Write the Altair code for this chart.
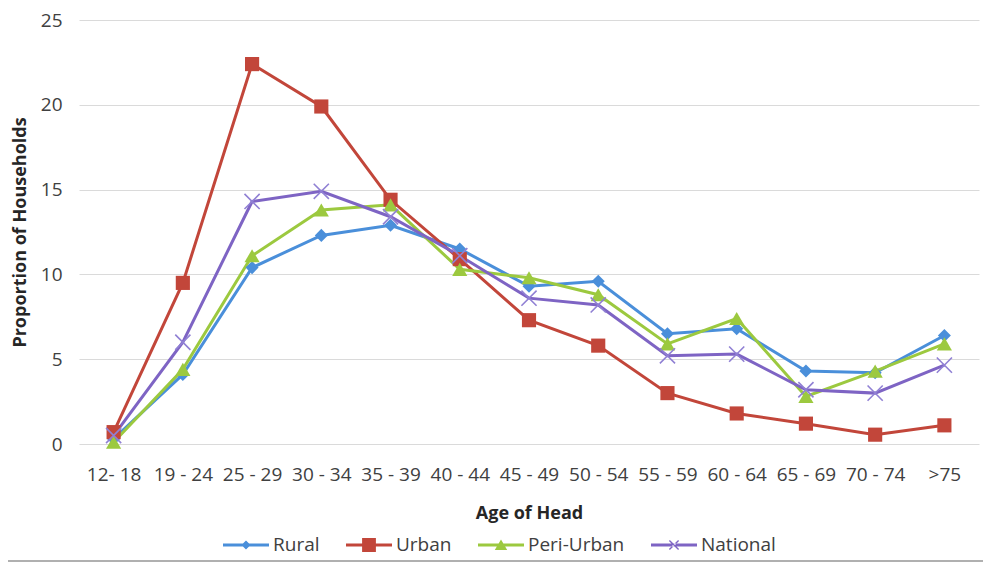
import altair as alt
import pandas as pd

categories = ["12- 18", "19 - 24", "25 - 29", "30 - 34", "35 - 39", "40 - 44",
              "45 - 49", "50 - 54", "55 - 59", "60 - 64", "65 - 69", "70 - 74", ">75"]
series_names = ["Rural", "Urban", "Peri-Urban", "National"]
rural = [0.3, 4.1, 10.4, 12.3, 12.9, 11.5, 9.3, 9.6, 6.5, 6.8, 4.3, 4.2, 6.4]
urban = [0.7, 9.5, 22.4, 19.9, 14.4, 10.9, 7.3, 5.8, 3.0, 1.8, 1.2, 0.55, 1.1]
peri_urban = [0.1, 4.4, 11.1, 13.8, 14.1, 10.3, 9.8, 8.8, 5.9, 7.4, 2.8, 4.3, 5.9]
national = [0.5, 6.0, 14.3, 14.9, 13.4, 11.1, 8.6, 8.2, 5.2, 5.3, 3.2, 3.0, 4.65]
y_ticks = [0, 5, 10, 15, 20, 25]

colors = ["#4A8FDA", "#C2463A", "#9CC93F", "#7E64C4"]
x_marker_color = "#9080D4"

rows = []
for name, vals in zip(series_names, [rural, urban, peri_urban, national]):
    for c, v in zip(categories, vals):
        rows.append({"age": c, "value": v, "series": name})
df = pd.DataFrame(rows)

FONT = "Open Sans"

x_enc = alt.X("age:N", sort=categories,
              scale=alt.Scale(domain=categories, padding=0.5),
              axis=alt.Axis(title="Age of Head", labelAngle=0, labelFontSize=19,
                            labelFont=FONT, labelColor="#404040", ticks=False,
                            tickSize=0, domain=False, grid=False, labelPadding=21,
                            labelBaseline="top", titleFont=FONT, titleFontSize=18,
                            titleFontWeight="bold", titleColor="#262626",
                            titleBaseline="alphabetic", titleY=74))
y_enc = alt.Y("value:Q",
              scale=alt.Scale(domain=[0, 25], nice=False, zero=True),
              axis=alt.Axis(title="Proportion of Households", values=y_ticks,
                            labelFontSize=19, labelFont=FONT, labelColor="#404040",
                            ticks=False, tickSize=0, domain=False, grid=True,
                            gridColor="#DADADA", gridWidth=1, labelPadding=17,
                            titleFont=FONT, titleFontSize=18, titleFontWeight="bold",
                            titleColor="#262626", titleBaseline="alphabetic",
                            titleX=-54, titleY=212))

color_scale = alt.Scale(domain=series_names, range=colors)

lines = alt.Chart(df).mark_line(strokeWidth=3).encode(
    x=x_enc, y=y_enc,
    color=alt.Color("series:N", scale=color_scale, legend=None),
    order=alt.value(0),
)

filled_df = df[df["series"] != "National"]
points = alt.Chart(filled_df).mark_point(filled=True, opacity=1).encode(
    x=x_enc, y=y_enc,
    color=alt.Color("series:N", scale=color_scale, legend=None),
    shape=alt.Shape("series:N", scale=alt.Scale(domain=series_names[:3],
                    range=["diamond", "square", "triangle-up"]), legend=None),
    size=alt.Size("series:N", scale=alt.Scale(domain=series_names[:3],
                  range=[170, 230, 220]), legend=None),
)

nat_df = df[df["series"] == "National"]
xmarks = alt.Chart(nat_df).mark_point(
    filled=False, shape="M-1,-1L1,1M-1,1L1,-1", size=230, strokeWidth=1.6,
    color=x_marker_color, opacity=1
).encode(x=x_enc, y=y_enc)

bar = "M-1,-0.065L1,-0.065L1,0.065L-1,0.065Z"
legend_shapes = [
    bar + "M0,-0.2L0.2,0L0,0.2L-0.2,0Z",
    bar + "M-0.3,-0.3L0.3,-0.3L0.3,0.3L-0.3,0.3Z",
    bar + "M0,-0.24L0.27,0.22L-0.27,0.22Z",
    bar + "M-0.179,-0.221L0.221,0.179L0.179,0.221L-0.221,-0.179Z"
          "M0.179,-0.221L-0.221,0.179L-0.179,0.221L0.221,-0.179Z",
]

legend_layer = alt.Chart(df).transform_filter("false").mark_point(
    filled=True, opacity=1
).encode(
    x=x_enc, y=y_enc,
    color=alt.Color("series:N", scale=alt.Scale(domain=series_names, range=colors),
                    title=None,
                    legend=alt.Legend(orient="none", direction="horizontal",
                                      legendX=144, legendY=502, title=None,
                                      symbolSize=2116, symbolStrokeWidth=0,
                                      labelFont=FONT, labelFontSize=19,
                                      labelColor="#404040", labelOffset=4,
                                      columnPadding=26, padding=0)),
    shape=alt.Shape("series:N", scale=alt.Scale(domain=series_names, range=legend_shapes),
                    title=None),
)

border = alt.Chart(df).mark_rule(color="#B0B0B0", strokeWidth=2).encode(
    x=alt.value(-72), x2=alt.value(911), y=alt.value(541)
)

chart = alt.layer(lines, points, xmarks, legend_layer, border).resolve_scale(
    color="independent", shape="independent", size="independent"
).properties(
    width=900, height=424,
    autosize=alt.AutoSizeParams(type="none"),
    padding={"left": 71, "top": 12, "right": 4, "bottom": 119},
    background="white",
).configure_view(stroke=None)

chart.save("out.html", embed_options={"renderer": "svg", "actions": False})
